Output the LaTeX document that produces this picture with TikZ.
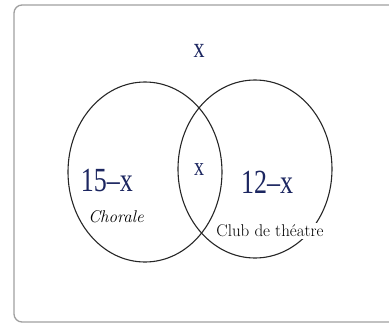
\documentclass[tikz,border=0pt]{standalone}
\usepackage{fontspec}
\newfontfamily\timesfont{Liberation Serif}
\definecolor{vennblue}{RGB}{28,38,96}
\newcommand{\tallx}[1]{\scalebox{1}[1.3]{#1}}
\begin{document}
\begin{tikzpicture}[x=1pt, y=-1pt, inner sep=0pt,
  count/.style={font=\timesfont\fontsize{26}{26}\selectfont, text=vennblue},
  setname/.style={font=\fontsize{17}{17}\selectfont}]
\useasboundingbox (0,0) rectangle (389,325);
\draw[gray!75, line width=1.3pt, rounded corners=8pt] (14,5) rectangle (400,322);
\draw[line width=1.1pt, black!85] (145,172) ellipse [x radius=77, y radius=90];
\draw[line width=1.1pt, black!85] (255,169) ellipse [x radius=77, y radius=89];
\node[count, font=\timesfont\fontsize{22}{22}\selectfont] (outside) at (199,51) {\tallx{x}};
\node[count] (chorale only) at (107,181) {\tallx{15–x}};
\node[count, font=\timesfont\fontsize{20}{20}\selectfont] (both) at (199,170) {\tallx{x}};
\node[count] (theatre only) at (267,182) {\tallx{12–x}};
\node[setname, font=\itshape\fontsize{17}{17}\selectfont] (chorale) at (116,217) {Chorale};
\node[setname, fill=white, inner xsep=1pt, inner ysep=2pt] (theatre) at (270,231) {Club de théatre};
\end{tikzpicture}
\end{document}
